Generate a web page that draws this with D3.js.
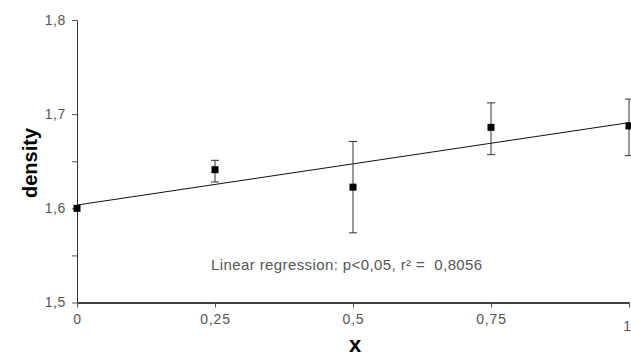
<!DOCTYPE html>
<html>
<head>
<meta charset="utf-8">
<script src="https://cdn.jsdelivr.net/npm/d3@7.9.0/dist/d3.min.js"></script>
<style>
  body { margin: 0; background: #fff; }
  svg { display: block; font-family: "Liberation Sans", Arial, sans-serif; }
</style>
</head>
<body>
<div id="chart"></div>
<script>
const xValues = [0, 0.25, 0.5, 0.75, 1];
const means = [1.600, 1.641, 1.6225, 1.686, 1.6875];
const upper = [1.600, 1.651, 1.671, 1.712, 1.716];
const lower = [1.600, 1.628, 1.574, 1.657, 1.656];
const xTicks = [0, 0.25, 0.5, 0.75, 1];
const xTickLabels = ['0', '0,25', '0,5', '0,75', '1'];
const yTicks = [1.5, 1.55, 1.6, 1.65, 1.7, 1.8];
const yLabelTicks = [1.5, 1.6, 1.7, 1.8];
const regression = { intercept: 1.6035, slope: 0.0875 };
const note = 'Linear regression: p<0,05, r² =  0,8056';

const width = 631, height = 356;

const svg = d3.select('#chart').append('svg')
  .attr('width', width).attr('height', height);

const xScale = d3.scaleLinear().domain([0, 1]).range([77, 629]);
const yScale = d3.scaleLinear().domain([1.5, 1.8]).range([302.5, 20]);

// y axis
const yAxis = svg.append('g')
  .attr('transform', `translate(${xScale(0)},0)`)
  .call(d3.axisLeft(yScale).tickValues(yTicks).tickSize(5).tickSizeOuter(0)
    .tickFormat(d => yLabelTicks.some(v => Math.abs(v - d) < 1e-9) ? d3.format('.1f')(d).replace('.', ',') : ''));
yAxis.select('.domain').attr('stroke', '#333');
yAxis.selectAll('.tick line').attr('stroke', '#555');
yAxis.selectAll('.tick text').attr('x', -11).attr('fill', '#555')
  .style('font-size', '14px').style('letter-spacing', '0.6px');

// x axis
const xAxis = svg.append('g')
  .attr('transform', `translate(0,${yScale(1.5)})`)
  .call(d3.axisBottom(xScale).tickValues(xTicks).tickSize(5).tickSizeOuter(0)
    .tickFormat((d, i) => xTickLabels[i]));
xAxis.select('.domain').attr('stroke', '#000').attr('stroke-width', 1.3);
xAxis.selectAll('.tick line').attr('stroke', '#555');
xAxis.selectAll('.tick text').attr('fill', '#555').style('font-size', '14px')
  .style('letter-spacing', '0.8px').attr('y', 12);
xAxis.selectAll('.tick').filter(d => d === 1).select('text')
  .attr('y', 19).attr('dx', -2);

// regression line
svg.append('line')
  .attr('x1', xScale(0)).attr('y1', yScale(regression.intercept))
  .attr('x2', xScale(1)).attr('y2', yScale(regression.intercept + regression.slope))
  .attr('stroke', '#111').attr('stroke-width', 1);

// error bars
const pts = xValues.map((x, i) => ({ x, m: means[i], hi: upper[i], lo: lower[i] }));
const eb = svg.append('g').attr('stroke', '#333').attr('stroke-width', 1);
pts.filter(d => d.hi !== d.lo).forEach(d => {
  const cx = xScale(d.x);
  eb.append('line').attr('x1', cx).attr('x2', cx)
    .attr('y1', yScale(d.hi)).attr('y2', yScale(d.lo));
  [d.hi, d.lo].forEach(v => eb.append('line')
    .attr('x1', cx - 4).attr('x2', cx + 4)
    .attr('y1', yScale(v)).attr('y2', yScale(v)));
});

// markers
svg.append('g').selectAll('rect').data(pts).join('rect')
  .attr('x', d => xScale(d.x) - 3.5).attr('y', d => yScale(d.m) - 3.5)
  .attr('width', 7).attr('height', 7).attr('fill', '#000');

// annotation
svg.append('text')
  .attr('x', 211).attr('y', 270)
  .attr('fill', '#555').style('font-size', '15px')
  .style('white-space', 'pre').style('letter-spacing', '0.4px')
  .text(note);

// axis titles
svg.append('text')
  .attr('transform', 'translate(37,163) rotate(-90)')
  .attr('text-anchor', 'middle')
  .style('font-size', '20px').style('font-weight', 'bold')
  .text('density');

svg.append('text')
  .attr('x', xScale(0.5) + 2).attr('y', 352)
  .attr('text-anchor', 'middle')
  .style('font-size', '22px').style('font-weight', 'bold')
  .text('x');
</script>
</body>
</html>
